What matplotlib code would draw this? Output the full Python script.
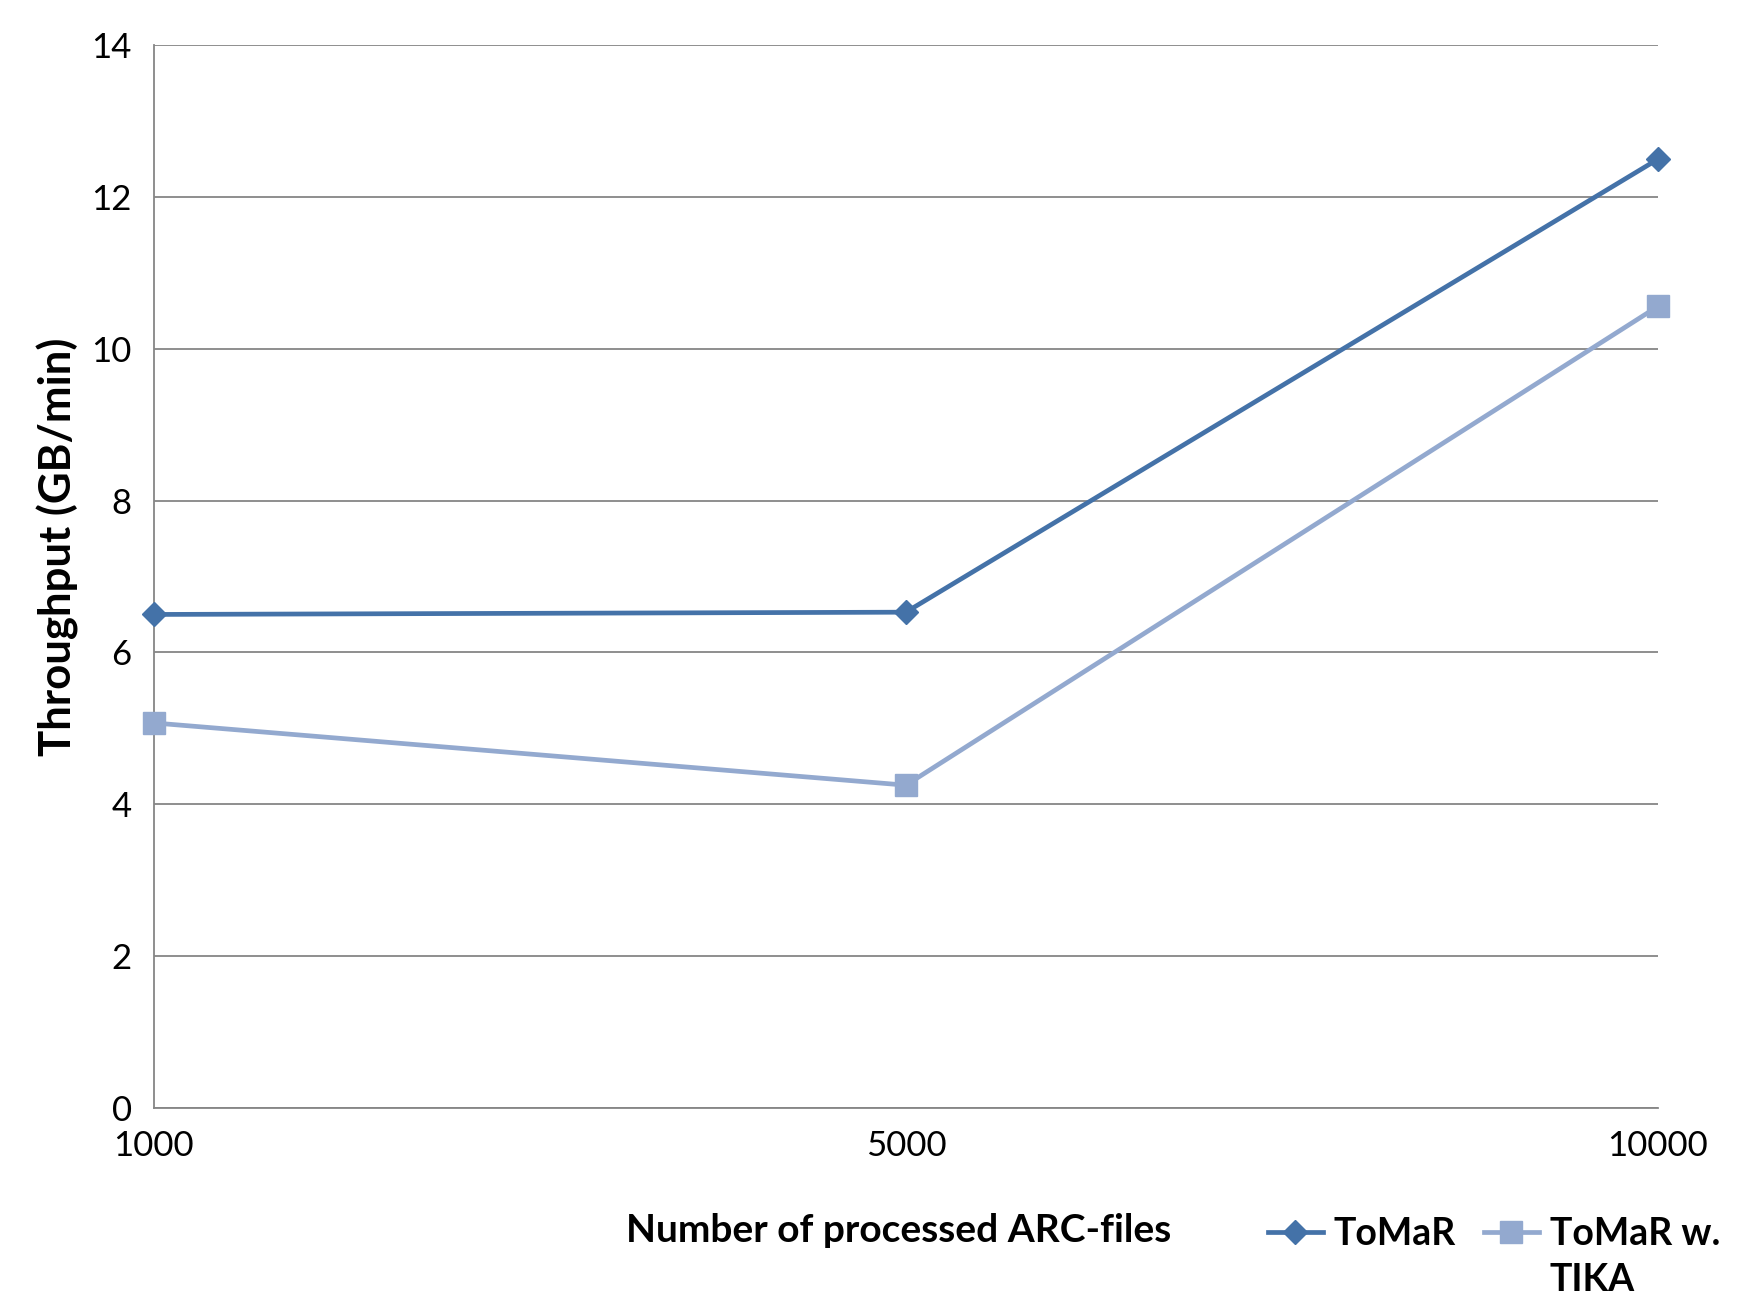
import matplotlib
matplotlib.use("Agg")
import matplotlib.pyplot as plt

categories = ["1000", "5000", "10000"]
tomar = [6.50, 6.53, 12.50]
tomar_tika = [5.07, 4.25, 10.56]
series_names = ["ToMaR", "ToMaR w."]
name_continuation = "TIKA"
yticks = [0, 2, 4, 6, 8, 10, 12, 14]

plt.rcParams['font.family'] = ['Lato', 'DejaVu Sans']

fig = plt.figure(figsize=(17.59, 12.97), dpi=100)
ax = fig.add_axes([0.0875, 0.146, 0.855, 0.819])

x = list(range(len(categories)))
ax.plot(x, tomar, color="#4472A8", lw=3.4, marker="D", ms=12.5, label=series_names[0],
        zorder=3, clip_on=False)
ax.plot(x, tomar_tika, color="#93A9CF", lw=3.4, marker="s", ms=16, label=series_names[1],
        zorder=3, clip_on=False)

ax.set_xlim(0, 2)
ax.set_ylim(0, 14)
ax.set_yticks(yticks)
ax.set_xticks(x)
ax.set_xticklabels(categories)
ax.yaxis.grid(True, color="#868686", lw=1.3)
ax.set_axisbelow(True)
for s in ["top", "right"]:
    ax.spines[s].set_visible(False)
for s in ["left", "bottom"]:
    ax.spines[s].set_color("#868686")
    ax.spines[s].set_linewidth(1.3)
ax.tick_params(axis="both", length=0, labelsize=25, colors="black")
ax.tick_params(axis="x", pad=16)
ax.tick_params(axis="y", pad=16)

ax.set_ylabel("Throughput (GB/min)", fontsize=31.5, fontweight="bold")
ax.yaxis.set_label_coords(-0.05, 0.528)
ax.set_xlabel("Number of processed ARC-files", fontsize=28, fontweight="bold")
ax.xaxis.set_label_coords(0.495, -0.099)

leg = fig.legend(loc="upper left", bbox_to_anchor=(0.7125, 0.073), ncol=2, frameon=False,
                 prop={"weight": "bold", "size": 27}, handlelength=1.45,
                 handletextpad=0.3, columnspacing=0.75, borderaxespad=0)

fig.canvas.draw()
r = fig.canvas.get_renderer()
bb = leg.get_texts()[1].get_window_extent(r).transformed(fig.transFigure.inverted())
fig.text(bb.x0, bb.y0 - 0.009, name_continuation, fontsize=27, fontweight="bold",
         ha="left", va="top")

fig.savefig("out.png", dpi=100)
